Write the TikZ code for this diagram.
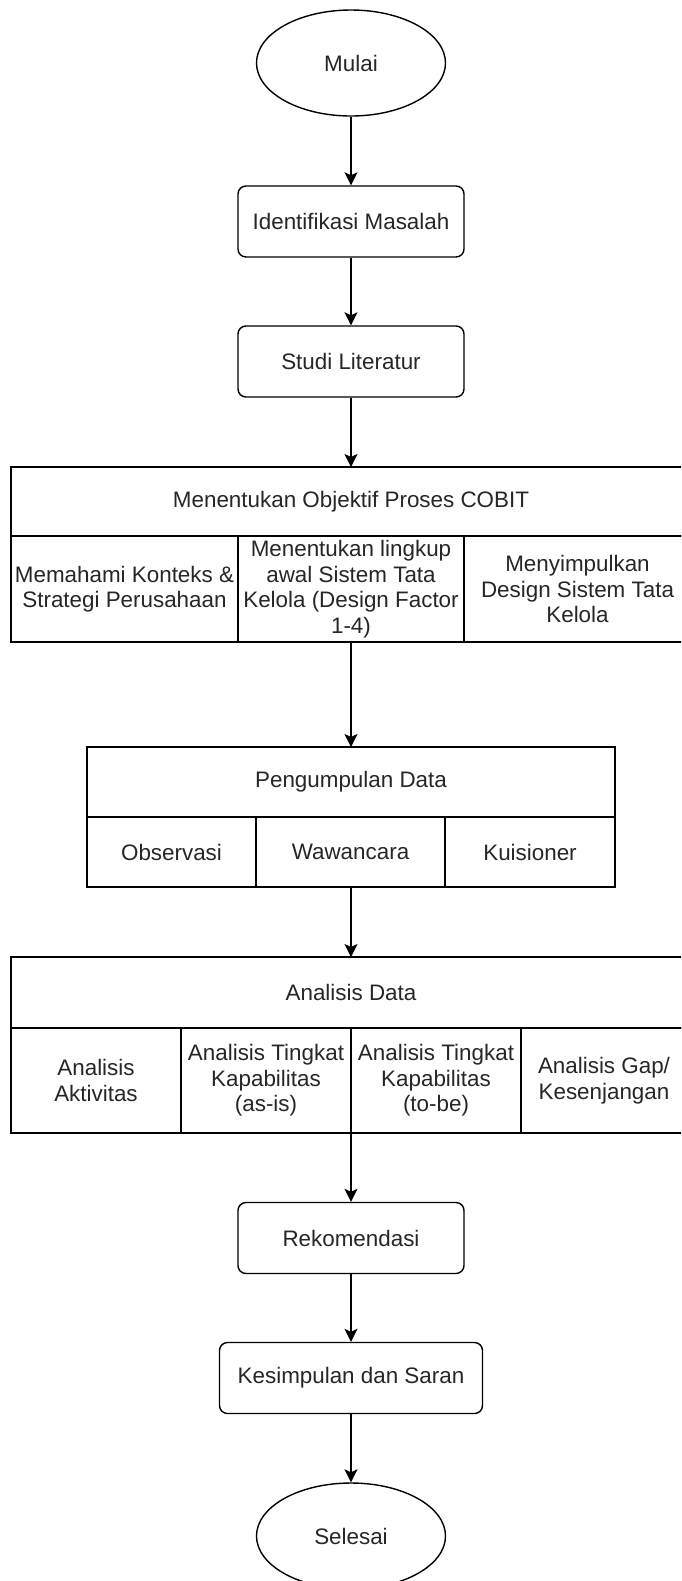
\documentclass[tikz,border=0pt]{standalone}
\usepackage{fontspec}
\setmainfont{Liberation Sans}
\usetikzlibrary{shapes.geometric,arrows.meta}
\begin{document}
\begin{tikzpicture}[x=0.5pt,y=-0.5pt,
  every node/.style={font=\fontsize{11.2}{12.75}\selectfont, text=black!85},
  lw/.style={line width=0.7pt},
  terminal/.style={lw, draw, ellipse, minimum width=94.5pt, minimum height=53pt, inner sep=0pt},
  procbox/.style={lw, draw, rounded corners=4pt, minimum height=35.5pt, inner sep=0pt},
  cell/.style={lw, draw, rectangle},
  lbl/.style={align=center, inner sep=0pt},
  flow/.style={lw, -{Stealth[length=6.5pt,width=6.5pt,inset=1.5pt]}}
]
\useasboundingbox (0,0) rectangle (681,1581);
\begin{scope}
\clip (0,0) rectangle (681,1581);

% start
\node[terminal] (mulai) at (351,63) {Mulai};
\node[procbox, minimum width=113pt] (ident) at (351,221.5) {Identifikasi Masalah};
\node[procbox, minimum width=113pt] (studi) at (351,361.5) {Studi Literatur};

% COBIT box
\draw[cell] (11,467) rectangle (691,536);
\draw[cell] (11,536) rectangle (238,642);
\draw[cell] (238,536) rectangle (464,642);
\draw[cell] (464,536) rectangle (691,642);
\coordinate (cobitTop) at (351,467);
\coordinate (cobitBot) at (351,642);
\node[lbl] (cobitH) at (351,501.5) {Menentukan Objektif Proses COBIT};
\node[lbl] (cobitA) at (124.5,589) {Memahami Konteks \&\\Strategi Perusahaan};
\node[lbl] (cobitB) at (351,589) {Menentukan lingkup\\awal Sistem Tata\\Kelola (Design Factor\\1-4)};
\node[lbl] (cobitC) at (577.5,589) {Menyimpulkan\\Design Sistem Tata\\Kelola};

% Pengumpulan Data
\draw[cell] (87,747) rectangle (615,817);
\draw[cell] (87,817) rectangle (256,887);
\draw[cell] (256,817) rectangle (445,887);
\draw[cell] (445,817) rectangle (615,887);
\coordinate (pengTop) at (351,747);
\coordinate (pengBot) at (351,887);
\node[lbl] (pengH) at (351,782) {Pengumpulan Data};
\node[lbl] (pengA) at (171.5,852) {Observasi};
\node[lbl] (pengB) at (350.5,852) {Wawancara};
\node[lbl] (pengC) at (530,852) {Kuisioner};

% Analisis Data
\draw[cell] (11,957) rectangle (691,1028);
\draw[cell] (11,1028) rectangle (181,1133);
\draw[cell] (181,1028) rectangle (351,1133);
\draw[cell] (351,1028) rectangle (521,1133);
\draw[cell] (521,1028) rectangle (691,1133);
\coordinate (anaTop) at (351,957);
\coordinate (anaBot) at (351,1133);
\node[lbl] (anaH) at (351,992.5) {Analisis Data};
\node[lbl] (anaA) at (96,1080.5) {Analisis\\Aktivitas};
\node[lbl] (anaB) at (266,1080.5) {Analisis Tingkat\\Kapabilitas\\(as-is)};
\node[lbl] (anaC) at (436,1080.5) {Analisis Tingkat\\Kapabilitas\\(to-be)};
\node[lbl] (anaD) at (604,1080.5) {Analisis Gap/\\Kesenjangan};

% end part
\node[procbox, minimum width=113pt] (rek) at (351,1238) {Rekomendasi};
\node[procbox, minimum width=131.5pt] (kes) at (351,1378) {Kesimpulan dan Saran};
\node[terminal] (selesai) at (351,1536) {Selesai};

% connectors
\draw[flow] (mulai) -- (ident);
\draw[flow] (ident) -- (studi);
\draw[flow] (studi) -- (cobitTop);
\draw[flow] (cobitBot) -- (pengTop);
\draw[flow] (pengBot) -- (anaTop);
\draw[flow] (anaBot) -- (rek);
\draw[flow] (rek) -- (kes);
\draw[flow] (kes) -- (selesai);
\end{scope}
\end{tikzpicture}
\end{document}
